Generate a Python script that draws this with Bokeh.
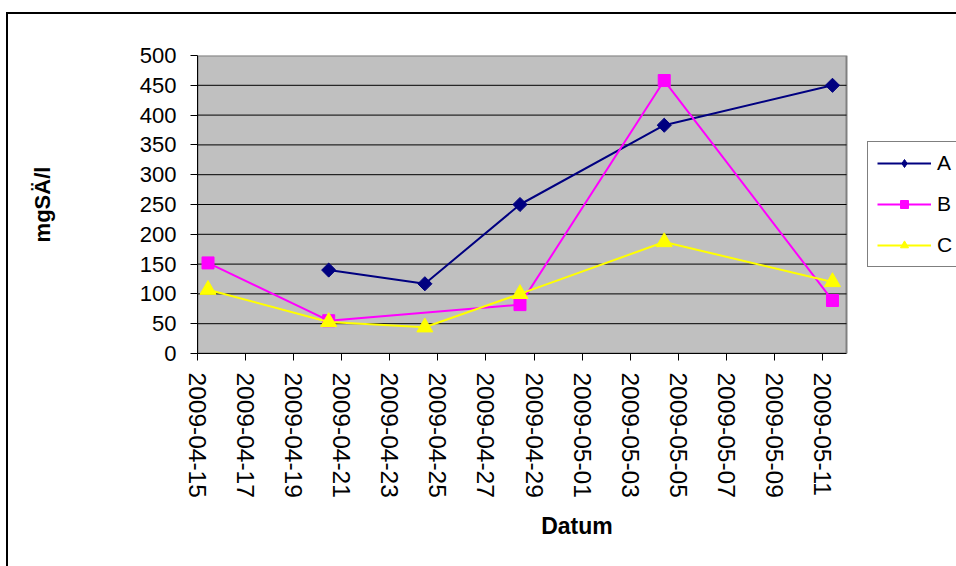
import math
import pandas as pd
from bokeh.plotting import figure
from bokeh.layouts import column
from bokeh.models import FixedTicker, Legend, LegendItem, Range1d
from bokeh.embed import file_html
from bokeh.resources import INLINE

# Sampling dates (morning samples) and measured values per series
dates = ["2009-04-15 10:30", "2009-04-20 11:00", "2009-04-24 11:00",
         "2009-04-28 10:00", "2009-05-04 10:00", "2009-05-11 10:00"]
series_a = [None, 140, 117, 250, 383, 450]
series_b = [152, 55, None, 82, 458, 89]
series_c = [107, 53, 44, 100, 187, 120]

tick_labels = ["2009-04-15", "2009-04-17", "2009-04-19", "2009-04-21",
               "2009-04-23", "2009-04-25", "2009-04-27", "2009-04-29",
               "2009-05-01", "2009-05-03", "2009-05-05", "2009-05-07",
               "2009-05-09", "2009-05-11"]
y_ticks = list(range(0, 501, 50))
x_start, x_end = "2009-04-15", "2009-05-12"
y_start, y_end = 0, 500

FONT = "Liberation Sans"

# canvas geometry (px)
W, H = 948, 552
LEFT, TOP, BOTTOM = 189, 41, 213
AREA_W = 649          # width of the grey plotting area


def to_ms(s):
    return pd.Timestamp(s).value / 1e6


x_all = [to_ms(d) for d in dates]
tick_ms = [to_ms(t) for t in tick_labels]
x0, x1 = to_ms(x_start), to_ms(x_end)

# the frame runs to the right canvas edge so the legend can sit beside the
# grey plotting area; the x range is stretched to keep the same scale
frame_w = W - LEFT
x_view_end = x0 + (x1 - x0) * frame_w / AREA_W

p = figure(width=W, height=H, output_backend="svg", toolbar_location=None,
           x_axis_type="datetime",
           x_range=Range1d(x0, x_view_end),
           y_range=Range1d(y_start, y_end),
           min_border_left=LEFT, min_border_right=0,
           min_border_top=TOP, min_border_bottom=BOTTOM)

p.background_fill_color = "white"
p.border_fill_color = "white"
p.outline_line_color = None
p.xgrid.visible = False
p.ygrid.visible = False

# grey plotting area with its gridlines
p.quad(left=[x0], right=[x1], bottom=[y_start], top=[y_end],
       fill_color="#C0C0C0", line_color="#808080", line_width=2)
p.segment(x0=[x0] * (len(y_ticks) - 2), x1=[x1] * (len(y_ticks) - 2),
          y0=y_ticks[1:-1], y1=y_ticks[1:-1], line_color="black", line_width=1)

# y axis
p.yaxis.ticker = FixedTicker(ticks=y_ticks)
p.yaxis.axis_label = "mgSÄ/l"
p.yaxis.axis_label_text_font = FONT
p.yaxis.axis_label_text_font_size = "22px"
p.yaxis.axis_label_text_font_style = "bold"
p.yaxis.axis_label_text_color = "black"
p.yaxis.axis_label_standoff = 82
p.yaxis.major_label_text_font = FONT
p.yaxis.major_label_text_font_size = "22px"
p.yaxis.major_label_text_color = "black"
p.yaxis.major_label_standoff = 14
p.yaxis.major_tick_in = 0
p.yaxis.major_tick_out = 7
p.yaxis.minor_tick_line_color = None
p.yaxis.axis_line_color = "black"
p.yaxis.major_tick_line_color = "black"

# x axis
p.xaxis.ticker = FixedTicker(ticks=tick_ms)
p.xaxis.bounds = (x0, x1)
p.xaxis.major_label_overrides = {t: lbl for t, lbl in zip(tick_ms, tick_labels)}
p.xaxis.major_label_orientation = "vertical"
p.xaxis.axis_label = "Datum"
p.xaxis.axis_label_text_font = FONT
p.xaxis.axis_label_text_font_size = "23px"
p.xaxis.axis_label_text_font_style = "bold"
p.xaxis.axis_label_text_color = "black"
p.xaxis.axis_label_standoff = 12
p.xaxis.major_label_text_font = FONT
p.xaxis.major_label_text_font_size = "24.5px"
p.xaxis.major_label_text_color = "black"
p.xaxis.major_label_standoff = 12
p.xaxis.major_tick_in = 0
p.xaxis.major_tick_out = 7
p.xaxis.minor_tick_line_color = None
p.xaxis.axis_line_color = "black"
p.xaxis.major_tick_line_color = "black"


def points(vals):
    xs = [x for x, v in zip(x_all, vals) if v is not None]
    ys = [v for v in vals if v is not None]
    return xs, ys


xa, ya = points(series_a)
xb, yb = points(series_b)
xc, yc = points(series_c)

la = p.line(xa, ya, line_color="#000080", line_width=2)
ma = p.scatter(xa, ya, marker="square", size=10, angle=math.pi / 4,
               fill_color="#000080", line_color="#000080")
# diamond swatch used only for the legend entry of series A (no visible point)
ka = p.scatter([x0], [float("nan")], marker="diamond", size=18,
               fill_color="#000080", line_color="#000080")
lb = p.line(xb, yb, line_color="#FF00FF", line_width=2)
mb = p.scatter(xb, yb, marker="square", size=12, fill_color="#FF00FF", line_color="#FF00FF")
lc = p.line(xc, yc, line_color="#FFFF00", line_width=2)
mc = p.scatter(xc, yc, marker="triangle", size=16, fill_color="#FFFF00", line_color="#FFFF00")

legend = Legend(items=[LegendItem(label="A", renderers=[la, ka]),
                       LegendItem(label="B", renderers=[lb, mb]),
                       LegendItem(label="C", renderers=[lc, mc])],
                location=(AREA_W + 21, 86), orientation="vertical",
                glyph_width=54, glyph_height=20, label_height=20,
                label_standoff=6, spacing=17, padding=9, margin=0,
                label_text_font=FONT, label_text_font_size="21px",
                label_text_color="black",
                border_line_color="black", border_line_width=1,
                background_fill_color="white", background_fill_alpha=1)
p.add_layout(legend, "center")

# chart area: black border on the top and left edges around the canvas
chart = column(p, styles={"margin-left": "6px", "margin-top": "12px",
                          "border-left": "2px solid black",
                          "border-top": "2px solid black",
                          "overflow": "hidden"})

open("out.html", "w").write(file_html(chart, INLINE))
